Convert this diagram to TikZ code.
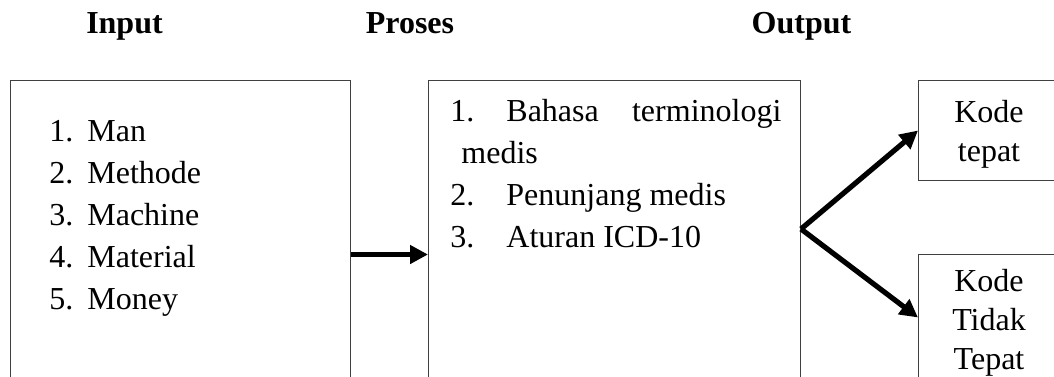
\documentclass[tikz,border=0pt]{standalone}
\usepackage{fontspec}
\setmainfont{Liberation Serif}
\usepackage{tikz}
\usetikzlibrary{positioning, arrows.meta, calc}

\begin{document}
\begin{tikzpicture}[x=0.5pt, y=-0.5pt,
    box/.style={draw=black!75, line width=0.5pt, inner sep=0pt, anchor=north west},
    txt/.style={font=\fontsize{16}{21}\selectfont, inner sep=0pt, align=left},
    codetxt/.style={font=\fontsize{16}{19.5}\selectfont, inner sep=0pt, align=center},
    head/.style={font=\bfseries\fontsize{16}{21}\selectfont, inner sep=0pt, anchor=base},
    flow/.style={line width=2.6pt, -{Triangle[length=9pt, width=9pt]}}]
  \useasboundingbox (0,0) rectangle (1054,376);
  \clip (0,0) rectangle (1054,376);

  % headers
  \node[head] (hinput) at (124.5,33) {Input};
  \node[head] (hproses) at (410,33) {Proses};
  \node[head] (houtput) at (801.5,33) {Output};

  % boxes
  \node[box, minimum width=170pt, minimum height=174pt] (inbox) at (10,80) {};
  \node[box, minimum width=186pt, minimum height=174pt] (midbox) at (428,80) {};
  \node[box, minimum width=95pt, minimum height=50pt] (okbox) at (918,80) {};
  \node[box, minimum width=95pt, minimum height=63pt] (nokbox) at (918,254) {};

  % box texts (base = last line)
  \node[txt, anchor=base west] (inlist) at (49,309) {%
    \makebox[19pt][l]{1.}Man\\
    \makebox[19pt][l]{2.}Methode\\
    \makebox[19pt][l]{3.}Machine\\
    \makebox[19pt][l]{4.}Material\\
    \makebox[19pt][l]{5.}Money};
  \node[txt, anchor=base west] (midlist) at (450,247) {%
    \makebox[165.5pt][l]{\makebox[28pt][l]{1.}Bahasa\hfill terminologi}\\
    \hspace*{5.5pt}medis\\
    \makebox[28pt][l]{2.}Penunjang medis\\
    \makebox[28pt][l]{3.}Aturan ICD-10};
  \node[codetxt, anchor=base] (oktext) at (989,161) {Kode\\tepat};
  \node[codetxt, anchor=base] (noktext) at (989,369) {Kode\\Tidak\\Tepat};

  % arrows
  \coordinate (fork) at ($(midbox.north east)+(0,149)$);
  \draw[flow] (inbox.east) -- (midbox.west);
  \draw[flow] (fork) -- (okbox.west);
  \draw[flow] (fork) -- (nokbox.west);
\end{tikzpicture}
\end{document}
